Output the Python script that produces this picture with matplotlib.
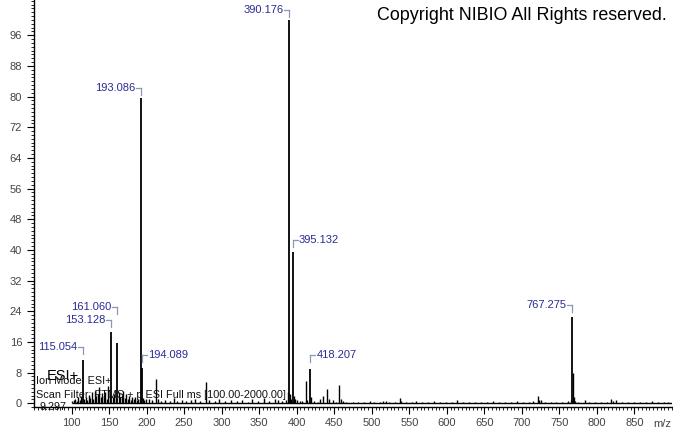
import matplotlib
matplotlib.use("Agg")
import matplotlib.pyplot as plt
from matplotlib.ticker import MultipleLocator

plt.rcParams["font.family"] = ["Liberation Sans", "DejaVu Sans"]

# labelled peaks: m/z, relative intensity, label side, label height above peak (px)
label_mz = [115.054, 153.128, 161.060, 193.086, 194.089, 390.176, 395.132, 418.207, 767.275]
label_int = [11.2, 18.6, 15.6, 79.6, 9.1, 100.0, 39.4, 8.9, 22.6]
label_side = ["l", "l", "l", "l", "r", "l", "r", "r", "l"]
label_rise = [13, 12, 36, 10, 13, 10, 12, 14, 12]

# unlabelled sticks
minor_mz = [
    101, 103, 105, 107, 109, 111, 113, 117, 119, 121, 123, 125, 127, 129, 131,
    133, 135, 137, 139, 141, 143, 145, 147, 149, 151, 155, 157, 159, 163, 165,
    167, 169, 171, 173, 175, 177, 179, 181, 183, 185, 187, 189, 191, 195, 197,
    199, 203, 207, 212, 215, 219, 225, 231, 237, 241, 247, 253, 259, 265, 271,
    279, 283, 291, 297, 305, 313, 321, 327, 335, 341, 349, 357, 363, 371, 375,
    381, 386, 389, 391, 393, 396, 398, 401, 404, 407, 412.6, 414, 419, 423, 428,
    431, 435, 440, 443, 448, 452, 457, 459, 462, 466, 475, 481, 489, 497, 503,
    511, 515, 519, 523, 531, 537, 539, 545, 553, 559, 567, 575, 583, 591, 599,
    607, 613, 621, 629, 637, 645, 653, 661, 669, 677, 685, 693, 701, 709, 715,
    721.7, 723, 725, 731, 739, 745, 753, 761, 765, 768.3, 769, 771, 775, 784, 789,
    797, 805, 813, 819, 821, 826, 833, 841, 849, 857, 865, 873, 881, 889, 895,
]
minor_int = [
    0.5, 0.8, 1.2, 0.6, 1.5, 0.9, 2.0, 1.0, 1.6, 0.8, 2.2, 1.4, 2.8, 1.1, 3.2,
    1.8, 2.4, 4.2, 1.5, 2.6, 1.9, 3.0, 1.2, 4.4, 2.0, 1.7, 2.3, 1.3, 2.9, 1.6,
    2.1, 3.3, 1.4, 2.5, 1.1, 1.9, 0.9, 1.5, 1.0, 1.7, 0.8, 1.2, 1.0, 1.4, 0.9,
    1.1, 1.0, 0.7, 6.4, 1.0, 0.6, 0.8, 0.5, 1.3, 0.6, 0.9, 0.5, 0.7, 1.1, 0.6,
    5.6, 0.9, 0.5, 1.2, 0.6, 0.8, 0.5, 0.7, 0.4, 1.0, 0.5, 1.4, 0.6, 1.2, 0.8,
    0.6, 0.9, 3.0, 2.5, 1.0, 2.0, 1.2, 0.8, 0.6, 0.5, 5.7, 0.8, 1.5, 0.5, 0.4,
    1.2, 1.8, 3.6, 1.1, 0.7, 0.4, 4.8, 1.2, 0.6, 0.4, 0.3, 0.4, 0.3, 0.5, 0.3,
    0.4, 0.6, 0.5, 0.3, 0.4, 1.3, 0.6, 0.4, 0.3, 0.5, 0.3, 0.4, 0.5, 0.3, 0.4,
    0.3, 0.8, 0.3, 0.4, 0.3, 0.4, 0.3, 0.5, 0.3, 0.4, 0.3, 0.5, 0.3, 0.4, 0.5,
    1.9, 0.7, 0.9, 0.3, 0.4, 0.3, 0.4, 0.5, 0.8, 7.8, 1.5, 0.6, 0.3, 0.9, 0.4,
    0.3, 0.4, 0.3, 1.1, 0.6, 0.7, 0.3, 0.4, 0.3, 0.4, 0.3, 0.5, 0.4, 0.3, 0.4,
]

scan_start, scan_end = 100, 900
y_ticks = list(range(0, 97, 8))
x_ticks = list(range(100, 851, 50))

info_lines = [
    "Ion Mode: ESI+",
    "Scan Filter: FTMS + p ESI Full ms [100.00-2000.00]",
    "9.297",
]

W, H = 673, 433
AX_L, AX_B, AX_W, AX_H = 34, 26, 638, 407
XLIM = (50, 900)
YLIM = (-1.0, 105.2)

LABEL_COLOR = "#2a2a96"
BRACKET_COLOR = "#8a98b4"


def _px_x(px):
    return px * (XLIM[1] - XLIM[0]) / AX_W


def _px_y(px):
    return px * (YLIM[1] - YLIM[0]) / AX_H


def _draw_label(ax, mz, inten, side, rise):
    y_lab = inten + _px_y(rise)
    tick = _px_y(7)
    gap = _px_x(5)
    ax.plot([mz, mz], [y_lab, y_lab - tick], color=BRACKET_COLOR, lw=0.9)
    if side == "l":
        ax.plot([mz - gap, mz], [y_lab, y_lab], color=BRACKET_COLOR, lw=0.9)
        ax.text(mz - gap - _px_x(1), y_lab, f"{mz:.3f}", ha="right", va="center",
                fontsize=8, color=LABEL_COLOR)
    else:
        ax.plot([mz, mz + gap], [y_lab, y_lab], color=BRACKET_COLOR, lw=0.9)
        ax.text(mz + gap + _px_x(1), y_lab, f"{mz:.3f}", ha="left", va="center",
                fontsize=8, color=LABEL_COLOR)


def main():
    fig = plt.figure(figsize=(W / 100, H / 100), dpi=100)
    ax = fig.add_axes([AX_L / W, AX_B / H, AX_W / W, AX_H / H])

    ax.hlines(0, scan_start, scan_end, color="black", lw=1.0)
    ax.vlines(minor_mz, 0, minor_int, color="black", lw=1.0)
    ax.vlines(label_mz, 0, label_int, color="black", lw=1.3)

    for mz, inten, side, rise in zip(label_mz, label_int, label_side, label_rise):
        _draw_label(ax, mz, inten, side, rise)

    ax.set_xlim(*XLIM)
    ax.set_ylim(*YLIM)
    ax.set_xticks(x_ticks)
    ax.set_yticks(y_ticks)
    ax.xaxis.set_minor_locator(MultipleLocator(5))
    ax.yaxis.set_minor_locator(MultipleLocator(1))
    ax.tick_params(which="major", direction="out", length=5, width=0.8,
                   labelsize=8, labelcolor="#444444")
    ax.tick_params(which="minor", direction="out", length=2.5, width=0.6)
    ax.tick_params(axis="x", pad=3)

    for side in ("top", "right"):
        ax.spines[side].set_visible(False)
    ax.spines["left"].set_linewidth(1.0)
    ax.spines["bottom"].set_linewidth(1.0)

    fig.text(662 / W, 1 - 424 / H, "m/z", ha="center", va="center",
             fontsize=8, color="#444444")

    fig.text(667 / W, 1 - 15 / H, "Copyright NIBIO All Rights reserved.",
             ha="right", va="center", fontsize=12.9, color="black")

    fig.text(47 / W, 1 - 376 / H, "ESI+", ha="left", va="center",
             fontsize=10.5, color="black")
    fig.text(36 / W, 1 - 381 / H, info_lines[0], ha="left", va="center",
             fontsize=7.8, color="#111111")
    fig.text(36 / W, 1 - 395 / H, info_lines[1], ha="left", va="center",
             fontsize=7.8, color="#111111")
    fig.text(39 / W, 1 - 407 / H, info_lines[2], ha="left", va="center",
             fontsize=7.8, color="#111111")

    fig.savefig("out.png", dpi=100)


if __name__ == "__main__":
    main()
